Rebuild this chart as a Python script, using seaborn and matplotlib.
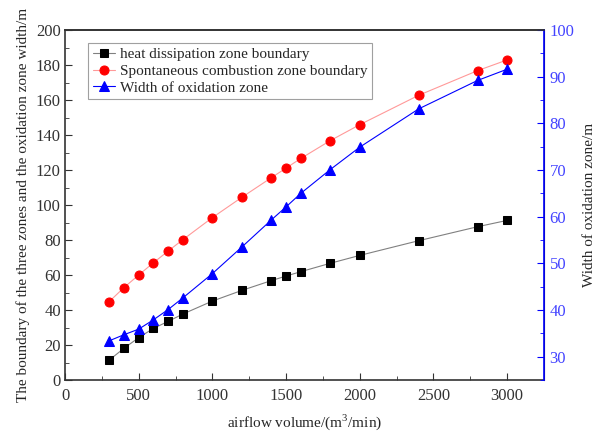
import matplotlib
matplotlib.use("Agg")
import matplotlib.pyplot as plt
from matplotlib.ticker import MultipleLocator
import seaborn as sns
import pandas as pd

airflow = [300, 400, 500, 600, 700, 800, 1000, 1200, 1400, 1500, 1600, 1800, 2000, 2400, 2800, 3000]
heat_boundary = [11.4, 18.1, 24.2, 29.5, 33.5, 37.7, 45.1, 51.2, 56.8, 59.4, 61.9, 66.7, 71.2, 79.6, 87.6, 91.2]
spont_boundary = [44.8, 52.8, 60.0, 67.0, 73.7, 80.2, 92.8, 104.4, 115.6, 121.1, 126.6, 136.8, 145.9, 162.7, 176.8, 182.9]
oxid_width = [33.4, 34.7, 35.9, 37.9, 40.1, 42.6, 47.8, 53.5, 59.3, 62.1, 65.0, 70.1, 74.9, 83.1, 89.2, 91.6]

labels = ["heat dissipation zone boundary", "Spontaneous combustion zone boundary", "Width of oxidation zone"]

df = pd.DataFrame({"x": airflow, "heat": heat_boundary, "spont": spont_boundary, "width": oxid_width})

sns.set_style("ticks")
plt.rcParams['font.family'] = ['Liberation Serif', 'DejaVu Serif']
plt.rcParams['mathtext.fontset'] = 'custom'
plt.rcParams['mathtext.rm'] = 'Liberation Serif'

fig = plt.figure(figsize=(5.96, 4.34), dpi=100)
ax = fig.add_axes([65/596, 1 - 380/434, (544-65)/596, (380-30)/434])
ax2 = ax.twinx()

sns.lineplot(data=df, x="x", y="heat", ax=ax, color="#808080", lw=0.8, marker="s", markersize=5.5,
             markerfacecolor="black", markeredgecolor="black", label=labels[0], legend=False)
sns.lineplot(data=df, x="x", y="spont", ax=ax, color="#ff9999", lw=0.8, marker="o", markersize=6.5,
             markerfacecolor="red", markeredgecolor="red", label=labels[1], legend=False)
sns.lineplot(data=df, x="x", y="width", ax=ax2, color="blue", lw=0.8, marker="^", markersize=7,
             markerfacecolor="blue", markeredgecolor="blue", label=labels[2], legend=False)

ax.set_xlim(0, 3250)
ax.set_ylim(0, 200)
ax2.set_ylim(25, 100)

ax.xaxis.set_major_locator(MultipleLocator(500))
ax.xaxis.set_minor_locator(MultipleLocator(250))
ax.yaxis.set_major_locator(MultipleLocator(20))
ax.yaxis.set_minor_locator(MultipleLocator(10))
ax2.yaxis.set_major_locator(MultipleLocator(10))
ax2.yaxis.set_minor_locator(MultipleLocator(5))

ax.tick_params(axis='both', which='both', direction='in', labelsize=12, colors='#333333', labelcolor='#333333')
ax.tick_params(which='major', length=5)
ax.tick_params(which='minor', length=3)
ax.tick_params(axis='x', pad=6)
ax.tick_params(axis='y', pad=3)
ax.tick_params(top=False, which='both')
ax2.tick_params(axis='y', which='both', direction='in', labelsize=12, colors='blue', labelcolor='#4444ff', pad=4)
ax2.tick_params(which='major', length=5)
ax2.tick_params(which='minor', length=3)

for s in ['left', 'bottom', 'top']:
    ax.spines[s].set_color('#333333')
    ax.spines[s].set_linewidth(1.2)
ax2.spines['right'].set_color('blue')
ax2.spines['right'].set_linewidth(1.2)
ax2.spines['top'].set_color('#333333')
ax2.spines['top'].set_linewidth(1.2)
ax2.spines['left'].set_visible(False)
ax2.spines['bottom'].set_visible(False)

ax.set_xlabel("airflow volume/(m$^3$/min)", fontsize=11, labelpad=6)
ax.set_ylabel("The boundary of the three zones and the oxidation zone width/m", fontsize=11, labelpad=4)
ax2.set_ylabel("Width of oxidation zone/m", fontsize=11, labelpad=6)

h1, l1 = ax.get_legend_handles_labels()
h2, l2 = ax2.get_legend_handles_labels()
leg = ax.legend(h1 + h2, l1 + l2, loc='upper left', bbox_to_anchor=(0.048, 0.963), borderaxespad=0,
                fontsize=11, frameon=True, fancybox=False, edgecolor='#888888', handlelength=1.5,
                borderpad=0.3, labelspacing=0.2, handletextpad=0.3)
leg.get_frame().set_linewidth(0.8)

fig.savefig("out.png", dpi=100)
